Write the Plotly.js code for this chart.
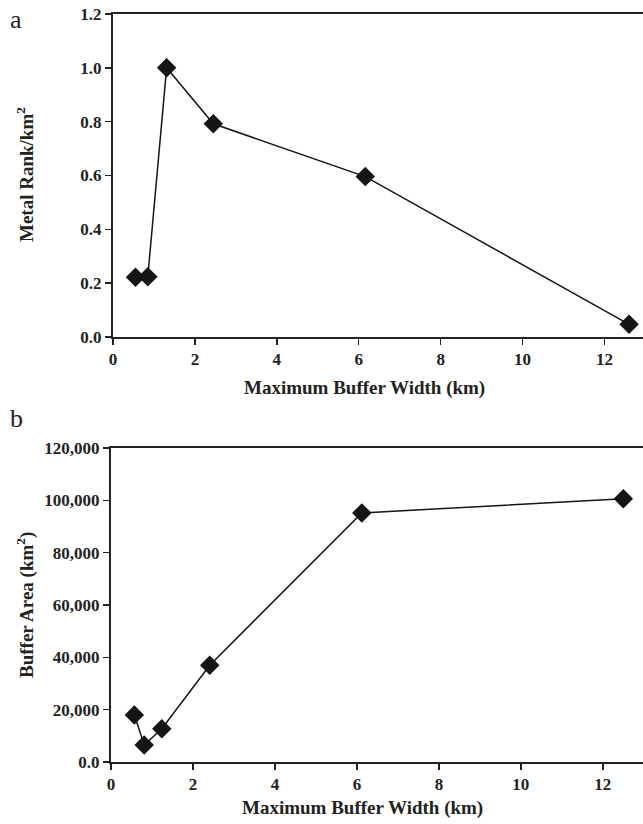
<!DOCTYPE html>
<html>
<head>
<meta charset="utf-8">
<script src="https://cdn.plot.ly/plotly-3.0.1.min.js"></script>
<style>html,body{margin:0;padding:0;background:#fff;}#chart{width:643px;height:824px;}</style>
</head>
<body>
<div id="chart"></div>
<script>
// Panel a: Metal Rank per km2 vs maximum buffer width
const widthA = [0.55, 0.85, 1.31, 2.45, 6.16, 12.6];
const rankA = [0.222, 0.224, 1.0, 0.792, 0.596, 0.047];
// Panel b: Buffer area vs maximum buffer width
const widthB = [0.57, 0.81, 1.24, 2.41, 6.12, 12.5];
const areaB = [18000, 6500, 12700, 37000, 95200, 100600];

const yTicksA = [0, 0.2, 0.4, 0.6, 0.8, 1.0, 1.2];
const yTickTextA = ["0.0", "0.2", "0.4", "0.6", "0.8", "1.0", "1.2"];
const yTicksB = [0, 20000, 40000, 60000, 80000, 100000, 120000];
const yTickTextB = ["0.0", "20,000", "40,000", "60,000", "80,000", "100,000", "120,000"];
const xTicks = [0, 2, 4, 6, 8, 10, 12];

const serif = "Liberation Serif, Times New Roman, serif";
const tickFont = {family: serif, size: 17, color: "#222", weight: "bold"};
const titleFont = {family: serif, size: 19, color: "#222", weight: "bold"};
const mk = {symbol: "diamond", size: 15, color: "#151515", line: {color: "#151515", width: 0}};
const ln = {color: "#151515", width: 1.5};

const traces = [
  {x: widthA, y: rankA, xaxis: "x", yaxis: "y", mode: "lines+markers", marker: mk, line: ln, showlegend: false},
  {x: widthB, y: areaB, xaxis: "x2", yaxis: "y2", mode: "lines+markers", marker: mk, line: ln, showlegend: false}
];

function xax(dom, rng, anchor) {
  return {domain: dom, range: rng, anchor: anchor, tickvals: xTicks, ticks: "outside", ticklen: 6, tickwidth: 1.5,
    tickcolor: "#222", showline: true, linecolor: "#222", linewidth: 2, mirror: true, showgrid: false,
    zeroline: false, tickfont: tickFont, fixedrange: true};
}
function yax(dom, rng, anchor, tv, tt) {
  return {domain: dom, range: rng, anchor: anchor, tickvals: tv, ticktext: tt, ticks: "outside", ticklen: 6,
    tickwidth: 1.5, tickcolor: "#222", showline: true, linecolor: "#222", linewidth: 2, mirror: false,
    showgrid: false, zeroline: false, tickfont: tickFont, fixedrange: true};
}

const layout = {
  width: 643, height: 824,
  margin: {l: 0, r: 0, t: 0, b: 0},
  paper_bgcolor: "#fff", plot_bgcolor: "#fff",
  xaxis: xax([0.1757, 1], [0, 12.94], "y"),
  yaxis: yax([0.5910, 0.9830], [0, 1.2], "x", yTicksA, yTickTextA),
  xaxis2: xax([0.1726, 1], [0, 12.98], "y2"),
  yaxis2: yax([0.0752, 0.4563], [0, 120000], "x2", yTicksB, yTickTextB),
  annotations: [
    {text: "a", x: 16/643, y: 1 - 20/824, xref: "paper", yref: "paper", showarrow: false,
     font: {family: serif, size: 26, color: "#222"}, xanchor: "center", yanchor: "middle"},
    {text: "b", x: 16/643, y: 1 - 418/824, xref: "paper", yref: "paper", showarrow: false,
     font: {family: serif, size: 26, color: "#222"}, xanchor: "center", yanchor: "middle"},
    {text: "Maximum Buffer Width (km)", x: 364/643, y: 1 - 388/824, xref: "paper", yref: "paper",
     showarrow: false, font: titleFont, xanchor: "center", yanchor: "middle"},
    {text: "Maximum Buffer Width (km)", x: 362/643, y: 1 - 808/824, xref: "paper", yref: "paper",
     showarrow: false, font: titleFont, xanchor: "center", yanchor: "middle"},
    {text: "Metal Rank/km<sup>2</sup>", x: 25/643, y: 1 - 175/824, xref: "paper", yref: "paper",
     showarrow: false, textangle: -90, font: titleFont, xanchor: "center", yanchor: "middle"},
    {text: "Buffer Area (km<sup>2</sup>)", x: 25/643, y: 1 - 605/824, xref: "paper", yref: "paper",
     showarrow: false, textangle: -90, font: titleFont, xanchor: "center", yanchor: "middle"}
  ]
};

Plotly.newPlot("chart", traces, layout, {displayModeBar: false, staticPlot: true});
</script>
</body>
</html>
